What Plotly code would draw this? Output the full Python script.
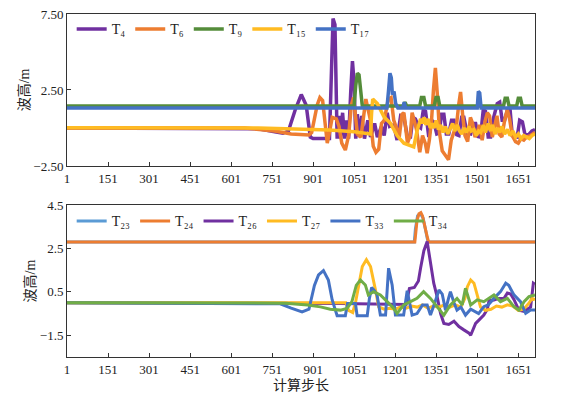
import plotly.graph_objects as go

# ---------------- data: top panel (step, wave height in m) ----------------
t4_x = [1, 600, 700, 760, 790, 810, 835, 857, 875, 890, 900, 960, 966, 973, 980, 988, 995, 1000, 1008, 1015,
        1022, 1030, 1038, 1044, 1050, 1056, 1062, 1070, 1078, 1088, 1100, 1110, 1125, 1135, 1150, 1160, 1171, 1180,
        1195, 1207, 1220, 1232, 1245, 1256, 1265, 1274, 1285, 1293, 1303, 1311, 1323, 1333, 1341, 1352, 1360, 1370,
        1378, 1387, 1396, 1406, 1415, 1425, 1433, 1443, 1451, 1463, 1476, 1485, 1494, 1503, 1512, 1522, 1530, 1540,
        1549, 1560, 1573, 1582, 1591, 1600, 1610, 1620, 1628, 1646, 1655, 1665, 1675, 1690, 1700, 1711]
t4_y = [0.0, 0.0, -0.05, -0.25, -0.35, -0.2, 1.2, 2.2, 1.5, -0.6, -0.7, -0.7, 3.5, 7.2, 6.8, -0.7, 0.8, -0.7, 1.0, -0.7,
        0.5, -0.7, 2.5, 4.4, 3.0, -0.7, 0.9, -0.6, 0.8, -0.7, 0.5, -0.6, 0.3, -0.6, 0.1, -0.5, 1.0, 0.1,
        0.2, -0.8, 0.8, 0.7, -0.6, -0.6, 0.7, 0.6, 0.1, 0.0, 1.2, 1.1, -0.6, 0.5, 0.4, -0.4, -0.35, 0.9,
        0.9, -0.4, -0.4, 0.5, 0.5, -0.45, -0.5, 0.7, 0.7, -0.35, -0.4, 0.3, 0.3, -0.57, -0.6, 1.2, 1.1, -0.6,
        -0.6, 0.7, 1.6, 1.7, 0.5, 0.5, 1.2, 1.2, -0.5, -0.6, 0.5, 0.4, -0.5, -0.4, -0.2, -0.1]

t6_x = [1, 650, 760, 820, 885, 895, 915, 925, 935, 945, 952, 960, 970, 985, 995, 1005, 1018, 1030, 1040, 1048,
        1055, 1062, 1075, 1085, 1093, 1100, 1110, 1120, 1130, 1140, 1150, 1160, 1175, 1185, 1195, 1205, 1215, 1225,
        1232, 1245, 1255, 1262, 1270, 1278, 1290, 1300, 1310, 1317, 1325, 1333, 1340, 1347, 1355, 1362, 1372, 1385,
        1395, 1405, 1415, 1425, 1432, 1439, 1447, 1455, 1465, 1475, 1483, 1492, 1500, 1508, 1518, 1528, 1537, 1545,
        1555, 1563, 1572, 1580, 1590, 1600, 1610, 1618, 1628, 1640, 1650, 1660, 1670, 1680, 1695, 1711]
t6_y = [0.0, 0.0, -0.2, -0.4, -0.46, -0.3, 1.5, 2.0, 1.8, -0.2, -1.0, -0.3, 0.7, 0.6, 0.1, -1.0, -1.45, -0.5, 1.5, 2.0,
        0.5, -0.4, -0.6, 1.0, 1.9, 1.3, 0.5, -1.2, -1.6, -1.4, 0.3, 0.5, 1.9, 2.0, 0.5, 0.0, -0.6, 0.9,
        1.0, -1.0, -0.5, 1.0, 0.5, -0.1, -1.6, -0.5, -1.0, -1.66, -0.8, 0.5, 2.5, 3.95, 2.0, -0.3, -1.5, -1.9,
        -2.1, -0.8, -0.2, 0.3, 1.5, 2.37, 0.8, -0.5, -0.9, 0.7, 0.3, -0.6, -0.3, 0.2, -0.8, 0.4, 1.0, 0.8,
        -0.6, 0.1, 0.8, -0.4, -0.6, 0.5, 1.2, 0.6, -0.5, -0.9, -1.0, -0.7, -0.8, -0.6, -0.5, -0.3]

t9_x = [1, 1050, 1056, 1062, 1068, 1073, 1080, 1230, 1236, 1242, 1290, 1296, 1305, 1311, 1343, 1349, 1357, 1363,
        1596, 1602, 1610, 1616, 1644, 1650, 1658, 1664, 1711]
t9_y = [1.45, 1.45, 2.8, 3.6, 3.5, 2.5, 1.45, 1.45, 1.7, 1.45, 1.45, 2.0, 2.0, 1.45, 1.45, 2.0, 2.0, 1.45,
        1.45, 1.95, 1.95, 1.45, 1.45, 1.95, 1.95, 1.45, 1.45]

t15_x = [1, 500, 700, 800, 960, 1050, 1110, 1114, 1118, 1135, 1159, 1183, 1207, 1232, 1255, 1268, 1280, 1293, 1300,
         1306, 1312, 1320, 1328, 1335, 1342, 1350, 1358, 1366, 1375, 1383, 1392, 1400, 1410, 1418, 1427, 1435, 1443,
         1452, 1460, 1470, 1478, 1488, 1497, 1505, 1513, 1522, 1530, 1540, 1548, 1556, 1565, 1573, 1582, 1590, 1600,
         1610, 1620, 1630, 1640, 1650, 1660, 1670, 1680, 1690, 1700, 1711]
t15_y = [0.02, 0.02, 0.0, -0.05, -0.13, -0.25, -0.4, 1.0, 1.9, 1.6, 0.74, 0.3, -0.5, -1.0, -1.2, -1.25, -0.2, 0.6, 0.3,
         0.7, 0.2, 0.6, 0.0, 0.3, 0.0, 0.5, -0.1, 0.2, -0.3, 0.1, -0.4, -0.1, 0.3, -0.2, 0.2, -0.2, -0.4,
         0.0, -0.3, 0.1, -0.2, -0.1, -0.5, -0.2, -0.3, 0.2, -0.3, 0.3, -0.2, 0.2, -0.4, 0.0, -0.3, 0.1, -0.4,
         -0.1, -0.5, -0.2, -0.6, -0.4, -0.7, -0.5, -0.6, -0.7, -0.5, -0.4]

t17_x = [1, 1170, 1176, 1181, 1186, 1190, 1196, 1202, 1210, 1228, 1233, 1238, 1500, 1504, 1509, 1514, 1711]
t17_y = [1.32, 1.32, 2.5, 3.6, 3.3, 2.2, 2.4, 1.6, 1.32, 1.32, 1.7, 1.32, 1.32, 2.4, 2.3, 1.32, 1.32]

# ---------------- data: bottom panel ----------------
t23_x = [1, 1270, 1274, 1282, 1292, 1302, 1312, 1320, 1711]
t23_y = [2.8, 2.8, 3.4, 4.0, 4.1, 3.9, 3.3, 2.8, 2.8]

t24_x = [1, 1272, 1276, 1280, 1287, 1294, 1300, 1308, 1316, 1322, 1711]
t24_y = [2.8, 2.8, 3.3, 3.8, 4.1, 4.15, 4.0, 3.5, 3.1, 2.8, 2.8]

t26_x = [1, 900, 1000, 1240, 1246, 1252, 1270, 1285, 1293, 1305, 1317, 1329, 1341, 1354, 1366, 1378, 1396, 1415,
         1433, 1451, 1470, 1476, 1482, 1494, 1506, 1524, 1537, 1543, 1561, 1579, 1598, 1610, 1622, 1634, 1652,
         1671, 1683, 1695, 1705, 1711]
t26_y = [0.0, -0.02, -0.03, -0.08, 0.3, 0.65, 0.7, 1.0, 1.6, 2.4, 2.82, 1.8, 0.9, 0.25, -0.5, -0.95, -1.0, -0.85,
         -1.1, -1.25, -1.4, -1.5, -1.3, -0.95, -0.8, -0.57, -0.3, 0.1, 0.13, 0.2, 0.2, 0.45, 0.4, 0.15, -0.34,
         -0.4, -0.3, -0.2, 0.9, 0.85]

t27_x = [1, 1020, 1030, 1045, 1055, 1062, 1080, 1095, 1110, 1128, 1140, 1160, 1180, 1200, 1220, 1240, 1260, 1280,
         1300, 1320, 1340, 1360, 1380, 1400, 1420, 1440, 1455, 1464, 1476, 1488, 1500, 1512, 1530, 1550, 1570,
         1590, 1610, 1630, 1650, 1670, 1690, 1700, 1711]
t27_y = [0.0, 0.0, -0.35, -0.45, 0.0, 0.5, 1.67, 1.98, 1.67, 0.59, -0.19, -0.3, -0.25, -0.3, -0.2, -0.25, -0.15, -0.2,
         -0.1, -0.25, -0.15, -0.2, -0.1, -0.2, -0.1, -0.2, 0.2, 0.74, 1.05, 0.9, 0.3, -0.2, -0.35, -0.3, -0.15,
         -0.2, -0.1, -0.15, -0.35, -0.3, 0.0, 0.2, 0.15]

t33_x = [1, 700, 780, 820, 860, 885, 895, 905, 920, 938, 956, 970, 988, 1018, 1026, 1055, 1061, 1098, 1106, 1114,
         1125, 1134, 1146, 1165, 1176, 1189, 1201, 1231, 1244, 1262, 1280, 1300, 1317, 1329, 1345, 1360, 1372, 1384,
         1395, 1402, 1415, 1426, 1440, 1457, 1476, 1490, 1505, 1524, 1540, 1561, 1585, 1604, 1615, 1634, 1658, 1677,
         1695, 1711]
t33_y = [0.0, -0.02, -0.05, -0.25, -0.42, -0.3, 0.2, 0.8, 1.28, 1.48, 1.05, 0.13, -0.6, -0.6, -0.03, -0.03, -0.6, -0.6, 0.2, 0.7,
         0.55, 0.36, -0.57, -0.57, 1.59, 0.82, -0.57, -0.57, 0.55, -0.57, -0.5, -0.1, -0.1, -0.57, 0.0, 0.59, 0.4, -0.34,
         0.2, 0.51, 0.0, -0.34, -0.2, -0.57, -0.3, -0.4, -0.5, -0.18, -0.1, 0.2, 0.51, 0.9, 0.8, 0.36, 0.05, -0.49,
         -0.34, -0.34]

t34_x = [1, 700, 800, 880, 927, 963, 1000, 1024, 1042, 1058, 1073, 1091, 1102, 1121, 1146, 1171, 1195, 1207, 1231,
         1256, 1280, 1304, 1329, 1353, 1378, 1402, 1426, 1445, 1457, 1476, 1500, 1524, 1540, 1561, 1585, 1610, 1634,
         1652, 1671, 1689, 1711]
t34_y = [0.0, 0.0, -0.02, -0.1, -0.19, -0.3, -0.34, -0.26, 0.05, 0.8, 1.05, 0.82, 0.36, 0.51, 0.36, 0.05, -0.26, -0.49, -0.1,
         0.05, 0.2, 0.51, 0.2, -0.18, -0.57, -0.1, 0.2, -0.1, 0.67, -0.1, 0.13, 0.05, 0.2, 0.36, 0.05, 0.2, -0.18,
         -0.34, 0.05, 0.28, 0.36]

# ---------------- axis labels ----------------
x_ticks = [1, 151, 301, 451, 601, 751, 901, 1051, 1201, 1351, 1501, 1651]
top_y_ticks = [-2.5, 2.5, 7.5]
bot_y_ticks = [-1.5, 0.5, 2.5, 4.5]
y_title = "波高/m"
x_title = "计算步长"

top_series = [
    ("T₄", t4_x, t4_y, "#7030A0"),
    ("T₆", t6_x, t6_y, "#ED7D31"),
    ("T₉", t9_x, t9_y, "#548C3A"),
    ("T₁₅", t15_x, t15_y, "#FFBB22"),
    ("T₁₇", t17_x, t17_y, "#4472C4"),
]
bot_series = [
    ("T₂₃", t23_x, t23_y, "#5B9BD5"),
    ("T₂₄", t24_x, t24_y, "#ED7D31"),
    ("T₂₆", t26_x, t26_y, "#7030A0"),
    ("T₂₇", t27_x, t27_y, "#FFBB22"),
    ("T₃₃", t33_x, t33_y, "#4472C4"),
    ("T₃₄", t34_x, t34_y, "#70AD47"),
]

FONT = "'Liberation Serif', 'Times New Roman', 'Noto Sans CJK SC', serif"

fig = go.Figure()
for name, xs, ys, col in top_series:
    fig.add_trace(go.Scatter(x=xs, y=ys, mode="lines", name=name, xaxis="x", yaxis="y",
                             line=dict(color=col, width=3.5), legend="legend"))
for name, xs, ys, col in bot_series:
    fig.add_trace(go.Scatter(x=xs, y=ys, mode="lines", name=name, xaxis="x2", yaxis="y2",
                             line=dict(color=col, width=3), legend="legend2"))

axis_common = dict(showline=True, linecolor="#333333", linewidth=1, mirror=True, ticks="inside",
                   ticklen=4, tickcolor="#333333", showgrid=False, zeroline=False, automargin=False,
                   tickfont=dict(family=FONT, size=13, color="#222222"))

fig.update_layout(
    width=571, height=395,
    margin=dict(l=67, r=36, t=14, b=38, autoexpand=False),
    paper_bgcolor="white", plot_bgcolor="white",
    font=dict(family=FONT, size=13, color="#222222"),
    xaxis=dict(domain=[0, 1], anchor="y", range=[1, 1711], tickvals=x_ticks, **axis_common),
    yaxis=dict(domain=[0.557, 1], anchor="x", range=[-2.5, 7.5], tickvals=top_y_ticks, tickformat=".2f",
               title=dict(text=y_title, font=dict(size=14), standoff=0), **axis_common),
    xaxis2=dict(domain=[0, 1], anchor="y2", range=[1, 1711], tickvals=x_ticks,
                title=dict(text=x_title, font=dict(size=14), standoff=4), **axis_common),
    yaxis2=dict(domain=[0, 0.443], anchor="x2", range=[-2.5, 4.5], tickvals=bot_y_ticks, tickformat=".1f",
                title=dict(text=y_title, font=dict(size=14), standoff=0), **axis_common),
    legend=dict(orientation="h", x=0.01, y=1.002, xanchor="left", yanchor="top",
                bgcolor="rgba(0,0,0,0)", font=dict(size=14), itemwidth=30, tracegroupgap=0),
    legend2=dict(orientation="h", x=0.01, y=0.442, xanchor="left", yanchor="top",
                 bgcolor="rgba(0,0,0,0)", font=dict(size=14), itemwidth=30, tracegroupgap=0),
)

fig.write_html("out.html", config={"displayModeBar": False},
               post_script="document.body.style.margin='0px';")
